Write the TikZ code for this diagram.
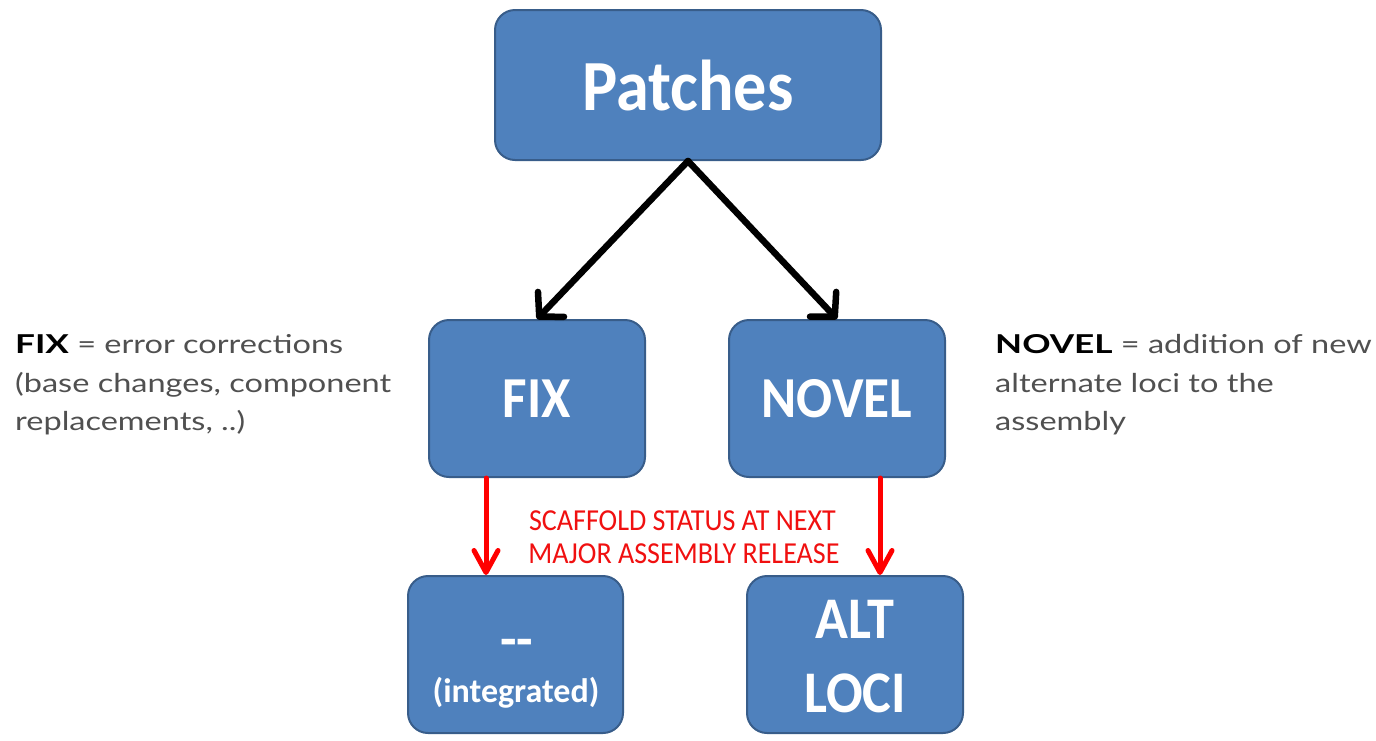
\documentclass[tikz,border=0pt]{standalone}
\usepackage{fontspec}
\setmainfont{Carlito}
\newfontfamily\calib{Carlito}
\newfontfamily\calibN[FakeStretch=0.92]{Carlito}
\newfontfamily\sidefont[FakeStretch=1.25, BoldFeatures={FakeStretch=1.35}]{Lato}
\usetikzlibrary{arrows.meta}
\definecolor{boxfill}{HTML}{4F81BD}
\definecolor{boxline}{HTML}{385D8A}
\definecolor{sidegray}{HTML}{505050}
\definecolor{redtxt}{HTML}{F01010}
\tikzset{
  box/.style={draw=boxline, line width=2pt, fill=boxfill, rounded corners=20pt,
    text=white, font=\calibN\bfseries, align=center, inner sep=0pt},
  boxtxt/.style={anchor=base, inner sep=0pt, text=white},
  blackarrow/.style={draw=black, line width=6.5pt, line cap=round,
    -{Straight Barb[length=17pt,width=36pt,line width=6.5pt,round]}},
  redarrow/.style={draw=red, line width=5pt, line cap=round,
    -{Straight Barb[length=22pt,width=24pt,line width=5pt,round]}},
  sidetxt/.style={anchor=base west, inner sep=0pt, font=\sidefont\fontsize{26}{30}\selectfont, text=sidegray},
  redlabel/.style={anchor=base, inner sep=0pt, font=\calibN\fontsize{30.5}{34}\selectfont, text=redtxt}
}
\begin{document}
\begin{tikzpicture}[x=1pt,y=-1pt]
\useasboundingbox (0,0) rectangle (1376,740);
\node[box, minimum width=386pt, minimum height=150pt] (P) at (688,85) {\fontsize{72}{80}\selectfont Patches};
\node[box, minimum width=216pt, minimum height=157pt] (F) at (537,398.5) {\fontsize{58}{60}\selectfont FIX};
\node[box, minimum width=216pt, minimum height=157pt] (N) at (837,398.5) {\fontsize{58}{60}\selectfont NOVEL};
\node[box, minimum width=215pt, minimum height=157pt] (I) at (515.5,654.5) {};
\node[box, minimum width=216pt, minimum height=157pt] (A) at (855,654.5) {};
\node[boxtxt, font=\calib\bfseries\fontsize{54}{60}\selectfont] (Idash) at (517,657) {-{}-};
\node[boxtxt, font=\calib\bfseries\fontsize{34}{38}\selectfont] (Itxt) at (516,702) {(integrated)};
\node[boxtxt, font=\calibN\bfseries\fontsize{59}{64}\selectfont] (Aalt) at (855,638) {ALT};
\node[boxtxt, font=\calibN\bfseries\fontsize{59}{64}\selectfont] (Aloci) at (855,712) {LOCI};
\draw[blackarrow] (P.south) -- (F.north);
\draw[blackarrow] (P.south) -- (N.north);
\draw[redarrow] ([xshift=-51pt]F.south) -- ([xshift=-51pt]F.south |- I.north);
\draw[redarrow] ([xshift=43pt]N.south) -- ([xshift=43pt]N.south |- A.north);
\node[redlabel] (R1) at (682.5,530) {SCAFFOLD STATUS AT NEXT};
\node[redlabel] (R2) at (684,563) {MAJOR ASSEMBLY RELEASE};
\node[sidetxt] (L1) at (15,353) {\textbf{\color{black}FIX} = error corrections};
\node[sidetxt] (L2) at (15,392) {(base changes, component};
\node[sidetxt] (L3) at (15,430) {replacements, ..)};
\node[sidetxt] (R1a) at (995,353) {\textbf{\color{black}NOVEL} = addition of new};
\node[sidetxt] (R2a) at (995,392) {alternate loci to the};
\node[sidetxt] (R3a) at (995,430) {assembly};
\end{tikzpicture}
\end{document}
